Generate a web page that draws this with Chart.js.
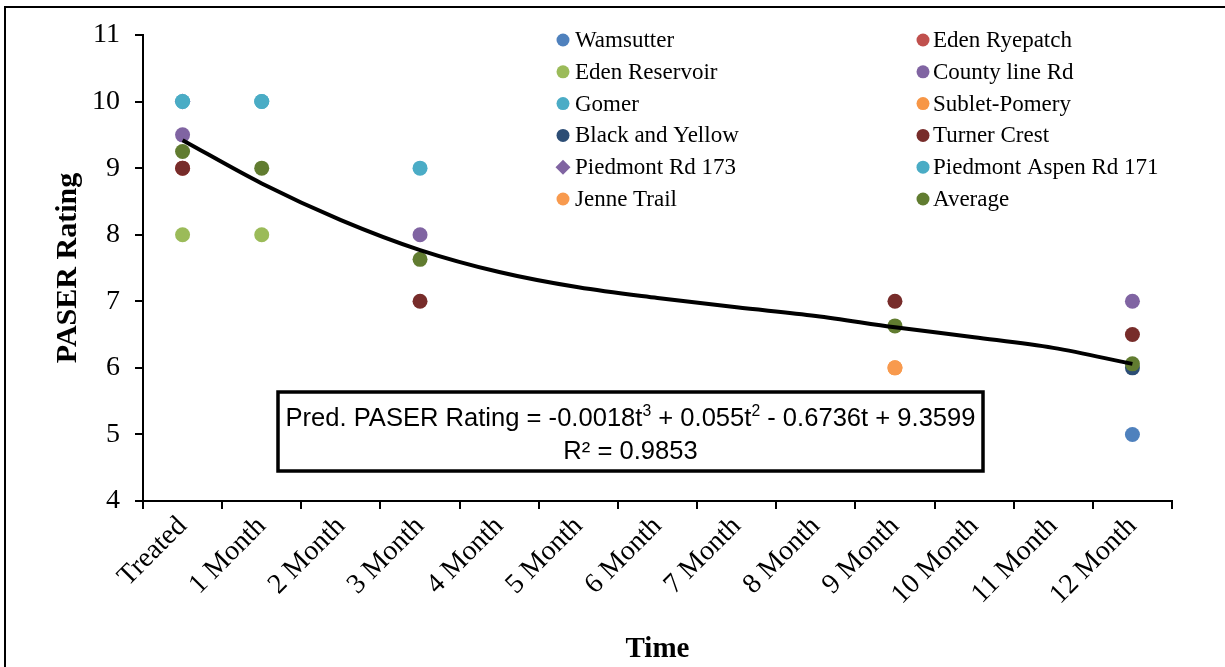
<!DOCTYPE html>
<html>
<head>
<meta charset="utf-8">
<script src="https://cdn.jsdelivr.net/npm/chart.js@4.4.0/dist/chart.umd.min.js"></script>
<style>
html,body{margin:0;padding:0;background:#fff;}
#wrap{position:relative;width:1225px;height:667px;}
</style>
</head>
<body>
<div id="wrap"><canvas id="c" width="1225" height="667"></canvas></div>
<script>
// ---------- DATA ----------
const categories = ['Treated','1 Month','2 Month','3 Month','4 Month','5 Month','6 Month','7 Month','8 Month','9 Month','10 Month','11 Month','12 Month'];
const yTickValues = [4,5,6,7,8,9,10,11];

const wamsutter        = [null,null,null,null,null,null,null,null,null,null,null,null,5];
const edenRyepatch     = [9,null,null,null,null,null,null,null,null,null,null,null,null];
const edenReservoir    = [8,8,null,null,null,null,null,null,null,null,null,null,null];
const countyLineRd     = [9.5,null,null,8,null,null,null,null,null,null,null,null,7];
const gomer            = [10,10,null,9,null,null,null,null,null,null,null,null,null];
const subletPomery     = [null,null,null,null,null,null,null,null,null,6,null,null,null];
const blackAndYellow   = [null,null,null,null,null,null,null,null,null,null,null,null,6];
const turnerCrest      = [9,null,null,7,null,null,null,null,null,7,null,null,6.5];
const piedmontRd173    = [10,null,null,null,null,null,null,null,null,null,null,null,null];
const piedmontAspen171 = [10,10,null,null,null,null,null,null,null,null,null,null,null];
const jenneTrail       = [null,null,null,null,null,null,null,null,null,6,null,null,null];
const average          = [9.25,9,null,7.63,null,null,null,null,null,6.63,null,null,6.06];

// Fitted trendline, values at each category
const trendline        = [9.42,8.77,8.22,7.77,7.44,7.21,7.05,6.91,6.78,6.61,6.46,6.30,6.06];

const equationLine1 = ['Pred. PASER Rating = -0.0018t','3',' + 0.055t','2',' - 0.6736t + 9.3599'];
const equationLine2 = 'R² = 0.9853';

// ---------- SERIES DEFINITIONS ----------
const series = [
  {name:'Wamsutter', data:wamsutter, color:'#4F81BD', style:'circle'},
  {name:'Eden Ryepatch', data:edenRyepatch, color:'#C0504D', style:'circle'},
  {name:'Eden Reservoir', data:edenReservoir, color:'#9BBB59', style:'circle'},
  {name:'County line Rd', data:countyLineRd, color:'#8064A2', style:'circle'},
  {name:'Gomer', data:gomer, color:'#4BACC6', style:'circle'},
  {name:'Sublet-Pomery', data:subletPomery, color:'#F79646', style:'circle'},
  {name:'Black and Yellow', data:blackAndYellow, color:'#2C4D75', style:'circle'},
  {name:'Turner Crest', data:turnerCrest, color:'#772C2A', style:'circle'},
  {name:'Piedmont Rd 173', data:piedmontRd173, color:'#8064A2', style:'rectRot'},
  {name:'Piedmont Aspen Rd 171', data:piedmontAspen171, color:'#4AACC5', style:'circle'},
  {name:'Jenne Trail', data:jenneTrail, color:'#F89A4E', style:'circle'},
  {name:'Average', data:average, color:'#617C30', style:'circle'}
];

const SERIF = '"Liberation Serif", "Times New Roman", serif';

const datasets = series.map((s, i) => ({
  type: 'line',
  label: s.name,
  data: s.data,
  showLine: false,
  pointStyle: s.style,
  pointRadius: s.style === 'rectRot' ? 8 : 7.5,
  pointHoverRadius: 7.5,
  pointBorderWidth: 0,
  backgroundColor: s.color,
  borderColor: s.color,
  order: series.length - i
}));
datasets.push({
  type: 'line',
  label: 'trend',
  data: trendline,
  borderColor: '#000',
  borderWidth: 4,
  pointRadius: 0,
  cubicInterpolationMode: 'monotone',
  fill: false,
  order: -1
});

// ---------- PLUGINS ----------
const decorPlugin = {
  id: 'decor',
  afterDraw(chart) {
    const ctx = chart.ctx;
    ctx.save();
    // outer frame
    ctx.strokeStyle = '#000';
    ctx.lineWidth = 2;
    ctx.strokeRect(5, 7, 1240, 700);

    // legend, two columns
    ctx.font = '23px ' + SERIF;
    ctx.textBaseline = 'middle';
    ctx.textAlign = 'left';
    series.forEach((s, i) => {
      const col = i % 2, row = Math.floor(i / 2);
      const mx = col === 0 ? 563 : 923;
      const tx = col === 0 ? 575 : 933;
      const y = 40 + row * 31.8;
      ctx.fillStyle = s.color;
      ctx.beginPath();
      if (s.style === 'rectRot') {
        const r = 7.5;
        ctx.moveTo(mx, y - r); ctx.lineTo(mx + r, y); ctx.lineTo(mx, y + r); ctx.lineTo(mx - r, y); ctx.closePath();
      } else {
        ctx.arc(mx, y, 6.5, 0, Math.PI * 2);
      }
      ctx.fill();
      ctx.fillStyle = '#000';
      ctx.fillText(s.name, tx, y + 1);
    });

    // equation box
    const bx = 278, by = 392, bw = 705, bh = 79;
    ctx.fillStyle = '#fff';
    ctx.fillRect(bx, by, bw, bh);
    ctx.strokeStyle = '#000';
    ctx.lineWidth = 3.5;
    ctx.strokeRect(bx, by, bw, bh);

    const mainFont = '26px "Liberation Sans Narrow", "Liberation Sans", Arial, sans-serif';
    const supFont = '16px "Liberation Sans Narrow", "Liberation Sans", Arial, sans-serif';
    let total = 0;
    const widths = equationLine1.map((seg, k) => {
      ctx.font = (k % 2 === 1) ? supFont : mainFont;
      const w = ctx.measureText(seg).width;
      total += w;
      return w;
    });
    const targetW = 690;
    const sx = targetW / total;
    const cx = bx + bw / 2;
    ctx.fillStyle = '#000';
    ctx.textBaseline = 'alphabetic';
    ctx.save();
    ctx.translate(cx - targetW / 2, 0);
    ctx.scale(sx, 1);
    let x = 0;
    equationLine1.forEach((seg, k) => {
      const sup = k % 2 === 1;
      ctx.font = sup ? supFont : mainFont;
      ctx.fillText(seg, x, sup ? 416 : 426);
      x += widths[k];
    });
    ctx.restore();
    ctx.save();
    ctx.font = mainFont;
    const w2 = ctx.measureText(equationLine2).width;
    ctx.translate(cx - (w2 * sx) / 2, 0);
    ctx.scale(sx, 1);
    ctx.fillText(equationLine2, 0, 459);
    ctx.restore();

    ctx.restore();
  }
};

// ---------- CHART ----------
new Chart(document.getElementById('c'), {
  type: 'line',
  data: { labels: categories, datasets: datasets },
  options: {
    responsive: false,
    animation: false,
    devicePixelRatio: 1,
    layout: { padding: { top: 35, right: 53, left: 0, bottom: 0 } },
    plugins: { legend: { display: false }, tooltip: { enabled: false } },
    events: [],
    scales: {
      x: {
        type: 'category',
        offset: true,
        grid: { offset: true, drawOnChartArea: false, drawTicks: true, tickLength: 8, color: '#000', lineWidth: 2 },
        border: { display: true, color: '#000', width: 2 },
        ticks: { color: '#000', font: { family: SERIF, size: 28 }, minRotation: 45, maxRotation: 45, padding: 1, autoSkip: false },
        title: { display: true, text: 'Time', color: '#000', font: { family: SERIF, size: 29, weight: 'bold' }, padding: { top: 0, bottom: 0 } },
        afterFit(s) { s.height = 166; }
      },
      y: {
        min: 4, max: 11,
        afterBuildTicks(s) { s.ticks = yTickValues.map(v => ({ value: v })); },
        ticks: { color: '#000', font: { family: SERIF, size: 28 }, padding: 15 },
        grid: { drawOnChartArea: false, drawTicks: true, tickLength: 8, color: '#000', lineWidth: 2 },
        border: { display: true, color: '#000', width: 2 },
        title: { display: true, text: 'PASER Rating', color: '#000', font: { family: SERIF, size: 30, weight: 'bold' }, padding: { top: 50, bottom: 0 } },
        afterFit(s) { s.width = 143; }
      }
    }
  },
  plugins: [decorPlugin]
});
</script>
</body>
</html>
